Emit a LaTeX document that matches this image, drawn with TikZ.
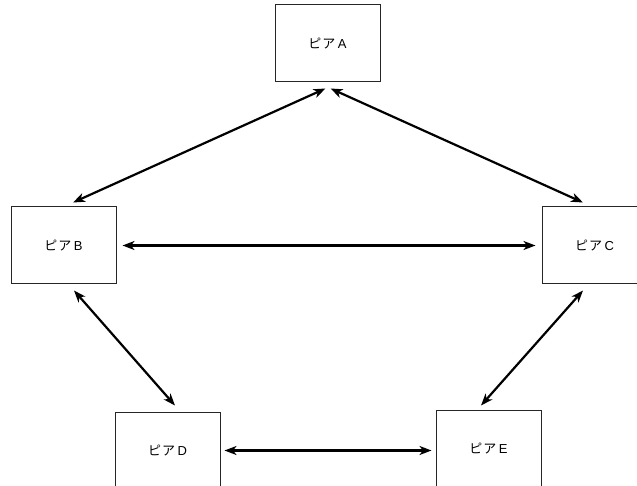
\documentclass[tikz,border=0pt]{standalone}
\usepackage{fontspec}
\setmainfont{Liberation Sans}
\newfontfamily\cjk{Noto Sans CJK JP}
\usetikzlibrary{arrows.meta}
\newcommand{\peername}[1]{{\cjk ピ\hspace{1pt}ア}\hspace{2.5pt}#1}
\begin{document}
\begin{tikzpicture}[x=1pt,y=-1pt,
  peer/.style={draw=black!85, line width=1pt, minimum width=105pt, minimum height=77pt,
    inner sep=0pt, font=\fontsize{13}{15}\selectfont},
  link/.style={line width=2.2pt, {Stealth[length=12pt,width=9pt,inset=3.5pt]}-{Stealth[length=12pt,width=9pt,inset=3.5pt]}}]
\useasboundingbox (0,0) rectangle (637,486);
\clip (0,0) rectangle (637,486);
% peers
\node[peer] (A) at (327.5,43.5) {\peername{A}};
\node[peer] (B) at (63.5,245.5) {\peername{B}};
\node[peer] (C) at (594.5,245.5) {\peername{C}};
\node[peer] (D) at (167.5,450.5) {\peername{D}};
\node[peer] (E) at (488.5,448.5) {\peername{E}};
% links between peers
\draw[link] ([xshift=-2pt,yshift=-6pt]A.south) -- ([xshift=9.5pt,yshift=4pt]B.north);
\draw[link] ([xshift=3pt,yshift=-6pt]A.south) -- ([xshift=-11.5pt,yshift=4pt]C.north);
\draw[link] ([xshift=6pt]B.east) -- ([xshift=-6pt]C.west);
\draw[link] ([xshift=10.5pt,yshift=-6pt]B.south) -- ([xshift=7.5pt,yshift=6pt]D.north);
\draw[link] ([xshift=-11.5pt,yshift=-6pt]C.south) -- ([xshift=-7.5pt,yshift=4pt]E.north);
\draw[link] ([xshift=4pt]D.east) -- ([xshift=-4pt]D.east -| E.west);
\end{tikzpicture}
\end{document}
